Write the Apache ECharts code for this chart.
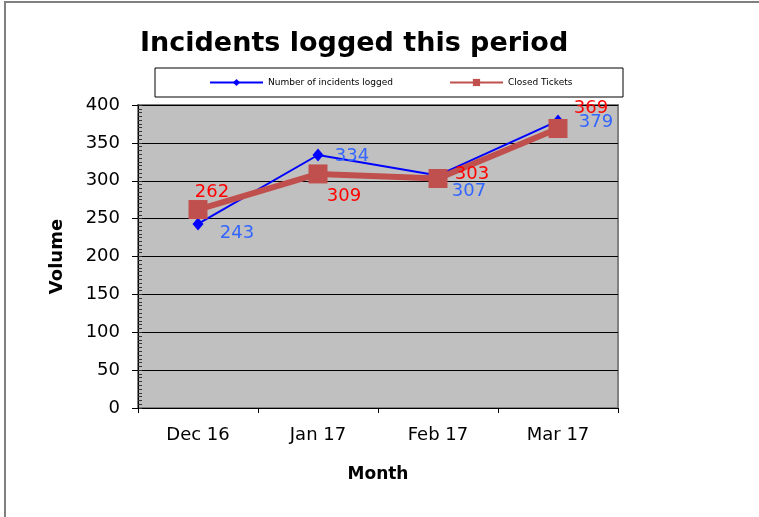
<!DOCTYPE html>
<html>
<head>
<meta charset="utf-8">
<script src="https://cdn.jsdelivr.net/npm/echarts@6/dist/echarts.min.js"></script>
<style>html,body{margin:0;padding:0;background:#fff}#c{width:759px;height:517px}</style>
</head>
<body>
<div id="c"></div>
<script>
const categories = ['Dec 16', 'Jan 17', 'Feb 17', 'Mar 17'];
const incidentsLogged = [243, 334, 307, 379];
const closedTickets = [262, 309, 303, 369];
const seriesNames = ['Number of incidents logged', 'Closed Tickets'];
const titleText = 'Incidents logged this period';

// label offsets (style only)
const blueOffsets = [[39, 9], [34, 1], [31, 16], [38, 1]];
const redOffsets = [[14, -17], [26, 22], [34, -4], [33, -20]];

const chart = echarts.init(document.getElementById('c'), null, {renderer: 'canvas'});
const FONT = 'DejaVu Sans, sans-serif';

function mk(vals, offs, color) {
  return vals.map((v, i) => ({
    value: v,
    label: {show: true, position: 'inside', offset: offs[i], color: color, fontSize: 18, fontFamily: FONT}
  }));
}

const legendText = {fontFamily: FONT, fontSize: 9, color: '#000'};

chart.setOption({
  animation: false,
  backgroundColor: '#fff',
  title: {
    text: titleText, left: 140, top: 30, padding: 0,
    textStyle: {fontFamily: FONT, fontSize: 27, fontWeight: 'bold', color: '#000'}
  },
  graphic: [
    {type: 'rect', shape: {x: 5, y: 2, width: 900, height: 700}, style: {fill: 'none', stroke: '#808080', lineWidth: 2}, silent: true, z: -1},
    {type: 'rect', shape: {x: 155, y: 68, width: 468, height: 29}, style: {fill: '#fff', stroke: '#000', lineWidth: 1}, silent: true, z: 0}
  ],
  legend: [
    {data: [seriesNames[0]], left: 209, top: 78, padding: 0, itemWidth: 53, itemHeight: 9, itemGap: 0, textStyle: legendText, z: 5},
    {data: [seriesNames[1]], left: 449, top: 78, padding: 0, itemWidth: 53, itemHeight: 9, itemGap: 0, textStyle: legendText, z: 5}
  ],
  grid: {left: 138, right: 141, top: 105, bottom: 109, show: true, backgroundColor: '#C0C0C0', borderColor: '#808080', borderWidth: 2},
  xAxis: {
    type: 'category', data: categories, boundaryGap: true,
    name: 'Month', nameLocation: 'middle', nameGap: 58,
    nameTextStyle: {fontFamily: FONT, fontSize: 17, fontWeight: 'bold', color: '#000'},
    axisLine: {lineStyle: {color: '#000', width: 1}},
    axisTick: {show: true, length: 5, lineStyle: {color: '#000'}},
    axisLabel: {fontFamily: FONT, fontSize: 18, color: '#000', margin: 18}
  },
  yAxis: [{
    type: 'value', min: 0, max: 400, interval: 50,
    name: 'Volume', nameLocation: 'middle', nameGap: 72, nameRotate: 90,
    nameTextStyle: {fontFamily: FONT, fontSize: 18, fontWeight: 'bold', color: '#000'},
    axisLine: {show: true, lineStyle: {color: '#000', width: 1}},
    axisTick: {show: true, length: 6, lineStyle: {color: '#000'}},
    axisLabel: {fontFamily: FONT, fontSize: 18, color: '#000', margin: 18},
    splitLine: {show: true, lineStyle: {color: '#000', width: 1}}
  }, {
    type: 'value', min: 0, max: 400, interval: 5, position: 'left',
    axisLine: {show: false},
    axisTick: {show: true, inside: true, length: 4, lineStyle: {color: '#333'}},
    axisLabel: {show: false}, splitLine: {show: false}
  }],
  series: [
    {
      name: seriesNames[1], type: 'line', data: mk(closedTickets, redOffsets, '#FF0000'),
      symbol: 'rect', symbolSize: 19,
      itemStyle: {color: '#C0504D'}, lineStyle: {color: '#C0504D', width: 6}, z: 3
    },
    {
      name: seriesNames[0], type: 'line', data: mk(incidentsLogged, blueOffsets, '#3366FF'),
      symbol: 'diamond', symbolSize: [11, 13],
      itemStyle: {color: '#0000FF'}, lineStyle: {color: '#0000FF', width: 2}, z: 2
    }
  ]
});
</script>
</body>
</html>
